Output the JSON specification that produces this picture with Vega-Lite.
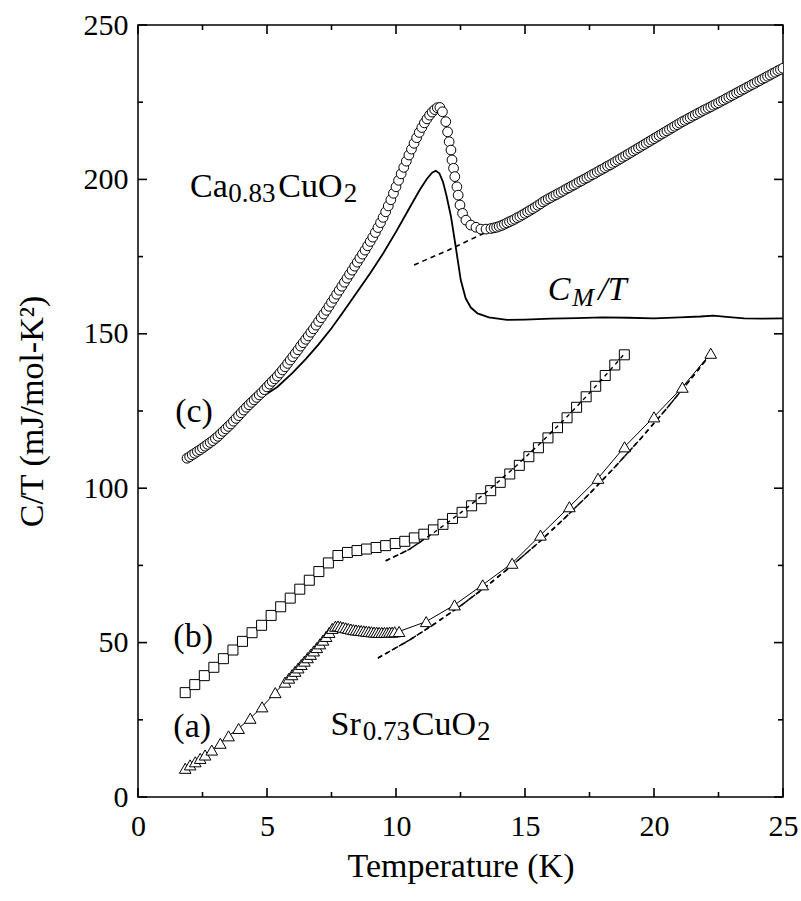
{
  "$schema": "https://vega.github.io/schema/vega-lite/v6.json",
  "width": 645,
  "height": 772,
  "autosize": {"type": "none"},
  "padding": {"left": 138, "top": 25, "right": 18, "bottom": 104},
  "background": "white",
  "config": {
    "view": {"stroke": "black", "strokeWidth": 1.5},
    "font": "Liberation Serif",
    "axis": {
      "domain": false, "grid": false, "ticks": false, "tickSize": 0,
      "labelColor": "black", "titleColor": "black", "labelFont": "Liberation Serif",
      "titleFont": "Liberation Serif", "labelFontSize": 30, "titleFontSize": 34,
      "titleFontWeight": "normal", "labelFlush": false, "labelOverlap": false
    }
  },
  "datasets": {
    "xticks": [
      {"T":0,"kind":"major"},{"T":2.5,"kind":"minor"},{"T":5,"kind":"major"},{"T":7.5,"kind":"minor"},{"T":10,"kind":"major"},{"T":12.5,"kind":"minor"},
      {"T":15,"kind":"major"},{"T":17.5,"kind":"minor"},{"T":20,"kind":"major"},{"T":22.5,"kind":"minor"},{"T":25,"kind":"major"}
    ],
    "yticks": [
      {"C":0,"kind":"major"},{"C":25,"kind":"minor"},{"C":50,"kind":"major"},{"C":75,"kind":"minor"},{"C":100,"kind":"major"},{"C":125,"kind":"minor"},
      {"C":150,"kind":"major"},{"C":175,"kind":"minor"},{"C":200,"kind":"major"},{"C":225,"kind":"minor"},{"C":250,"kind":"major"}
    ],
    "circles": [
      {"T":1.9,"C":109.7},{"T":2.0,"C":110.2},{"T":2.1,"C":110.8},{"T":2.2,"C":111.3},{"T":2.3,"C":111.9},{"T":2.4,"C":112.4},{"T":2.5,"C":113.0},{"T":2.6,"C":113.6},{"T":2.7,"C":114.2},{"T":2.8,"C":114.8},{"T":2.9,"C":115.4},
      {"T":3.0,"C":116.1},{"T":3.1,"C":116.8},{"T":3.2,"C":117.6},{"T":3.3,"C":118.4},{"T":3.4,"C":119.2},{"T":3.5,"C":120.0},{"T":3.6,"C":120.8},{"T":3.7,"C":121.7},{"T":3.8,"C":122.6},{"T":3.9,"C":123.5},
      {"T":4.0,"C":124.4},{"T":4.1,"C":125.3},{"T":4.2,"C":126.2},{"T":4.3,"C":127.0},{"T":4.4,"C":127.8},{"T":4.5,"C":128.6},{"T":4.6,"C":129.4},{"T":4.7,"C":130.2},{"T":4.8,"C":131.0},{"T":4.9,"C":131.9},
      {"T":5.0,"C":132.8},{"T":5.1,"C":133.7},{"T":5.2,"C":134.6},{"T":5.3,"C":135.4},{"T":5.4,"C":136.3},{"T":5.5,"C":137.3},{"T":5.6,"C":138.3},{"T":5.7,"C":139.3},{"T":5.8,"C":140.4},{"T":5.9,"C":141.5},
      {"T":6.0,"C":142.6},{"T":6.1,"C":143.7},{"T":6.2,"C":144.8},{"T":6.3,"C":146.0},{"T":6.4,"C":147.1},{"T":6.5,"C":148.2},{"T":6.6,"C":149.3},{"T":6.7,"C":150.5},{"T":6.8,"C":151.6},{"T":6.9,"C":152.8},
      {"T":7.0,"C":154.0},{"T":7.1,"C":155.2},{"T":7.2,"C":156.4},{"T":7.3,"C":157.6},{"T":7.4,"C":158.9},{"T":7.5,"C":160.2},{"T":7.6,"C":161.5},{"T":7.7,"C":162.8},{"T":7.8,"C":164.1},{"T":7.9,"C":165.4},
      {"T":8.0,"C":166.7},{"T":8.1,"C":168.0},{"T":8.2,"C":169.3},{"T":8.3,"C":170.6},{"T":8.4,"C":171.9},{"T":8.5,"C":173.2},{"T":8.6,"C":174.5},{"T":8.7,"C":175.8},{"T":8.8,"C":177.1},{"T":8.9,"C":178.5},
      {"T":9.0,"C":179.9},{"T":9.1,"C":181.3},{"T":9.2,"C":182.8},{"T":9.3,"C":184.4},{"T":9.4,"C":186.0},{"T":9.5,"C":187.7},{"T":9.6,"C":189.5},{"T":9.7,"C":191.4},{"T":9.8,"C":193.4},{"T":9.9,"C":195.5},
      {"T":10.0,"C":197.6},{"T":10.1,"C":199.7},{"T":10.2,"C":201.8},{"T":10.3,"C":203.9},{"T":10.4,"C":205.9},{"T":10.5,"C":207.9},{"T":10.6,"C":209.8},{"T":10.7,"C":211.7},{"T":10.8,"C":213.5},{"T":10.9,"C":215.2},
      {"T":11.0,"C":216.8},{"T":11.1,"C":218.3},{"T":11.2,"C":219.6},{"T":11.3,"C":220.8},{"T":11.4,"C":221.8},{"T":11.5,"C":222.6},{"T":11.6,"C":223.2},{"T":11.7,"C":223.3},
      {"T":11.8,"C":221.9},{"T":11.93,"C":218.7},{"T":12.0,"C":215.4},{"T":12.06,"C":212.2},{"T":12.13,"C":209.5},{"T":12.17,"C":206.3},{"T":12.23,"C":203.6},{"T":12.28,"C":200.9},{"T":12.36,"C":197.6},{"T":12.41,"C":194.9},{"T":12.48,"C":191.7},{"T":12.58,"C":189.0},{"T":12.71,"C":186.8},{"T":12.9,"C":185.2},{"T":13.1,"C":184.5},{"T":13.29,"C":183.9},{"T":13.49,"C":183.9},{"T":13.68,"C":184.1},
      {"T":13.8,"C":184.3},{"T":13.9,"C":184.5},{"T":14.0,"C":184.8},{"T":14.1,"C":185.1},{"T":14.2,"C":185.5},{"T":14.3,"C":185.9},{"T":14.4,"C":186.3},{"T":14.5,"C":186.7},{"T":14.6,"C":187.1},{"T":14.7,"C":187.6},{"T":14.8,"C":188.0},{"T":14.9,"C":188.5},
      {"T":15.0,"C":189.0},{"T":15.1,"C":189.5},{"T":15.2,"C":190.0},{"T":15.3,"C":190.5},{"T":15.4,"C":191.0},{"T":15.5,"C":191.6},{"T":15.6,"C":192.1},{"T":15.7,"C":192.7},{"T":15.8,"C":193.2},{"T":15.9,"C":193.7},
      {"T":16.0,"C":194.1},{"T":16.1,"C":194.6},{"T":16.2,"C":195.0},{"T":16.3,"C":195.5},{"T":16.4,"C":195.9},{"T":16.5,"C":196.4},{"T":16.6,"C":196.9},{"T":16.7,"C":197.3},{"T":16.8,"C":197.8},{"T":16.9,"C":198.2},
      {"T":17.0,"C":198.7},{"T":17.1,"C":199.2},{"T":17.2,"C":199.6},{"T":17.3,"C":200.1},{"T":17.4,"C":200.5},{"T":17.5,"C":201.0},{"T":17.6,"C":201.5},{"T":17.7,"C":201.9},{"T":17.8,"C":202.4},{"T":17.9,"C":202.9},
      {"T":18.0,"C":203.3},{"T":18.1,"C":203.8},{"T":18.2,"C":204.3},{"T":18.3,"C":204.7},{"T":18.4,"C":205.2},{"T":18.5,"C":205.7},{"T":18.6,"C":206.2},{"T":18.7,"C":206.7},{"T":18.8,"C":207.2},{"T":18.9,"C":207.7},
      {"T":19.0,"C":208.2},{"T":19.1,"C":208.7},{"T":19.2,"C":209.2},{"T":19.3,"C":209.7},{"T":19.4,"C":210.2},{"T":19.5,"C":210.7},{"T":19.6,"C":211.2},{"T":19.7,"C":211.7},{"T":19.8,"C":212.2},{"T":19.9,"C":212.7},
      {"T":20.0,"C":213.2},{"T":20.1,"C":213.7},{"T":20.2,"C":214.2},{"T":20.3,"C":214.7},{"T":20.4,"C":215.2},{"T":20.5,"C":215.7},{"T":20.6,"C":216.2},{"T":20.7,"C":216.7},{"T":20.8,"C":217.2},{"T":20.9,"C":217.7},
      {"T":21.0,"C":218.2},{"T":21.1,"C":218.7},{"T":21.2,"C":219.1},{"T":21.3,"C":219.6},{"T":21.4,"C":220.0},{"T":21.5,"C":220.5},{"T":21.6,"C":220.9},{"T":21.7,"C":221.4},{"T":21.8,"C":221.8},{"T":21.9,"C":222.3},
      {"T":22.0,"C":222.7},{"T":22.1,"C":223.1},{"T":22.2,"C":223.5},{"T":22.3,"C":224.0},{"T":22.4,"C":224.4},{"T":22.5,"C":224.8},{"T":22.6,"C":225.3},{"T":22.7,"C":225.7},{"T":22.8,"C":226.2},{"T":22.9,"C":226.6},
      {"T":23.0,"C":227.1},{"T":23.1,"C":227.5},{"T":23.2,"C":228.0},{"T":23.3,"C":228.4},{"T":23.4,"C":228.9},{"T":23.5,"C":229.3},{"T":23.6,"C":229.8},{"T":23.7,"C":230.2},{"T":23.8,"C":230.7},{"T":23.9,"C":231.1},
      {"T":24.0,"C":231.6},{"T":24.1,"C":232.0},{"T":24.2,"C":232.5},{"T":24.3,"C":232.9},{"T":24.4,"C":233.4},{"T":24.5,"C":233.8},{"T":24.6,"C":234.3},{"T":24.7,"C":234.7},{"T":24.8,"C":235.2},{"T":24.9,"C":235.6},{"T":25.0,"C":236.0}
    ],
    "cm": [
      {"T":1.9,"C":110.0},{"T":2.5,"C":113.2},{"T":3.0,"C":116.2},{"T":3.5,"C":120.0},{"T":4.0,"C":124.0},{"T":4.5,"C":127.8},{"T":5.0,"C":130.6},{"T":5.4,"C":132.8},{"T":6.0,"C":137.4},{"T":6.5,"C":141.8},{"T":7.0,"C":146.6},{"T":7.5,"C":151.8},{"T":8.0,"C":157.6},{"T":8.5,"C":163.6},{"T":9.0,"C":169.6},{"T":9.5,"C":176.0},{"T":10.0,"C":183.0},{"T":10.5,"C":190.4},{"T":10.9,"C":196.3},{"T":11.2,"C":200.2},{"T":11.4,"C":202.2},{"T":11.54,"C":202.8},{"T":11.68,"C":202.0},{"T":11.82,"C":199.2},{"T":11.96,"C":194.6},{"T":12.13,"C":188.0},{"T":12.3,"C":179.0},{"T":12.51,"C":167.4},{"T":12.7,"C":161.5},{"T":12.9,"C":158.5},{"T":13.16,"C":156.6},{"T":13.6,"C":155.3},{"T":14.3,"C":154.5},{"T":15.0,"C":154.6},{"T":16.0,"C":154.9},{"T":17.0,"C":155.1},{"T":18.0,"C":155.3},{"T":19.0,"C":155.2},{"T":20.0,"C":155.0},{"T":21.0,"C":155.3},{"T":21.8,"C":155.6},{"T":22.3,"C":155.9},{"T":22.8,"C":155.5},{"T":23.5,"C":155.0},{"T":24.2,"C":154.9},{"T":25.0,"C":155.0}
    ],
    "squares": [
      {"T":1.83,"C":33.8},{"T":2.2,"C":36.4},{"T":2.57,"C":39.3},{"T":2.94,"C":42.0},{"T":3.31,"C":44.8},{"T":3.68,"C":47.6},{"T":4.05,"C":50.4},{"T":4.42,"C":53.2},{"T":4.79,"C":55.6},{"T":5.16,"C":58.8},{"T":5.53,"C":61.6},{"T":5.9,"C":64.4},{"T":6.27,"C":67.3},{"T":6.64,"C":70.2},{"T":7.01,"C":73.0},{"T":7.38,"C":75.8},{"T":7.75,"C":78.2},{"T":8.12,"C":79.2},{"T":8.49,"C":79.8},{"T":8.86,"C":80.3},{"T":9.23,"C":80.8},{"T":9.6,"C":81.4},{"T":9.97,"C":82.1},{"T":10.34,"C":82.8},{"T":10.71,"C":83.9},{"T":11.08,"C":85.1},{"T":11.45,"C":86.5},{"T":11.82,"C":88.3},{"T":12.19,"C":90.2},{"T":12.56,"C":92.2},{"T":12.93,"C":94.3},{"T":13.3,"C":96.6},{"T":13.67,"C":99.2},{"T":14.04,"C":101.9},{"T":14.41,"C":104.6},{"T":14.78,"C":107.4},{"T":15.15,"C":110.2},{"T":15.52,"C":113.1},{"T":15.89,"C":116.3},{"T":16.26,"C":119.6},{"T":16.63,"C":122.8},{"T":17.0,"C":126.2},{"T":17.37,"C":129.6},{"T":17.74,"C":133.0},{"T":18.11,"C":136.5},{"T":18.48,"C":139.9},{"T":18.85,"C":143.2}
    ],
    "triangles": [
      {"T":1.83,"C":9.3},{"T":2.02,"C":10.4},{"T":2.22,"C":11.4},{"T":2.41,"C":12.5},{"T":2.6,"C":13.6},{"T":2.86,"C":15.2},{"T":3.19,"C":17.4},{"T":3.51,"C":19.8},{"T":3.9,"C":22.2},{"T":4.35,"C":25.5},{"T":4.81,"C":29.2},{"T":5.32,"C":33.8},{"T":5.7,"C":37.2},{"T":5.85,"C":38.5},{"T":5.97,"C":39.6},{"T":6.09,"C":40.7},{"T":6.21,"C":41.8},{"T":6.33,"C":42.9},{"T":6.45,"C":44.0},{"T":6.57,"C":45.1},{"T":6.69,"C":46.2},{"T":6.81,"C":47.3},{"T":6.93,"C":48.4},{"T":7.05,"C":49.6},{"T":7.17,"C":50.8},{"T":7.29,"C":52.0},{"T":7.41,"C":53.3},{"T":7.53,"C":54.6},{"T":7.65,"C":55.3},{"T":7.75,"C":55.4},{"T":7.85,"C":55.2},{"T":7.95,"C":55.0},{"T":8.05,"C":54.8},{"T":8.15,"C":54.6},{"T":8.25,"C":54.4},{"T":8.35,"C":54.2},{"T":8.45,"C":54.1},{"T":8.55,"C":54.0},{"T":8.65,"C":53.9},{"T":8.75,"C":53.8},{"T":8.85,"C":53.7},{"T":8.95,"C":53.6},{"T":9.05,"C":53.5},{"T":9.15,"C":53.4},{"T":9.25,"C":53.4},{"T":9.35,"C":53.3},{"T":9.45,"C":53.3},{"T":9.55,"C":53.3},{"T":9.65,"C":53.3},{"T":9.75,"C":53.4},{"T":9.85,"C":53.4},{"T":9.95,"C":53.5},{"T":10.12,"C":53.6},{"T":11.17,"C":56.8},{"T":12.27,"C":62.2},{"T":13.36,"C":68.7},{"T":14.5,"C":75.7},{"T":15.6,"C":84.8},{"T":16.72,"C":94.0},{"T":17.83,"C":103.2},{"T":18.86,"C":113.4},{"T":20.0,"C":123.1},{"T":21.1,"C":132.7},{"T":22.2,"C":143.7}
    ],
    "fits": [
      {"series":"c","T":10.7,"C":172.3},{"series":"c","T":12.0,"C":177.0},{"series":"c","T":13.42,"C":182.6},
      {"series":"b","T":9.6,"C":76.5},{"series":"b","T":10.5,"C":80.1},{"series":"b","T":11.5,"C":85.8},{"series":"b","T":12.5,"C":92.0},{"series":"b","T":13.5,"C":98.7},{"series":"b","T":14.5,"C":106.0},{"series":"b","T":15.5,"C":113.8},{"series":"b","T":16.5,"C":122.0},{"series":"b","T":17.5,"C":130.8},{"series":"b","T":18.5,"C":140.1},{"series":"b","T":18.85,"C":143.5},
      {"series":"a","T":9.3,"C":45.0},{"series":"a","T":10.5,"C":50.7},{"series":"a","T":11.5,"C":56.1},{"series":"a","T":12.5,"C":61.9},{"series":"a","T":13.5,"C":68.2},{"series":"a","T":14.5,"C":75.0},{"series":"a","T":15.5,"C":82.2},{"series":"a","T":16.5,"C":90.0},{"series":"a","T":17.5,"C":98.2},{"series":"a","T":18.5,"C":107.0},{"series":"a","T":19.5,"C":116.2},{"series":"a","T":20.5,"C":125.9},{"series":"a","T":21.5,"C":136.1},{"series":"a","T":22.2,"C":143.5}
    ],
    "labelsBig": [
      {"text":"Ca","T":2.02,"C":194.4},{"text":"CuO","T":5.44,"C":194.4},
      {"text":"Sr","T":7.46,"C":20.1},{"text":"CuO","T":10.61,"C":20.1},
      {"text":"(c)","T":1.44,"C":121.5},{"text":"(b)","T":1.37,"C":48.7},{"text":"(a)","T":1.37,"C":19.5}
    ],
    "labelsSub": [
      {"text":"0.83","T":3.5,"C":192.8},{"text":"2","T":7.97,"C":192.8},
      {"text":"0.73","T":8.71,"C":18.5},{"text":"2","T":13.14,"C":18.5}
    ],
    "labelsItalic": [
      {"text":"C","T":15.88,"C":160.9},{"text":"/T","T":17.84,"C":160.9}
    ],
    "labelsItalicSub": [
      {"text":"M","T":16.83,"C":159.0}
    ]
  },
  "layer": [
    {
      "data": {"name": "cm"},
      "mark": {"type": "line", "color": "black", "strokeWidth": 1.8, "clip": true},
      "encoding": {
        "x": {"field": "T", "type": "quantitative", "scale": {"domain": [0, 25], "nice": false, "zero": false},
          "axis": {"orient": "bottom", "values": [0, 5, 10, 15, 20, 25], "labelPadding": 14, "title": "Temperature (K)", "titlePadding": 8}},
        "y": {"field": "C", "type": "quantitative", "scale": {"domain": [0, 250], "nice": false, "zero": false},
          "axis": {"orient": "left", "values": [0, 50, 100, 150, 200, 250], "labelPadding": 10, "title": "C/T (mJ/mol-K²)", "titlePadding": 34}}
      }
    },
    {
      "data": {"name": "xticks"},
      "mark": {"type": "point", "shape": "M0,0L0,-2", "filled": false, "stroke": "black", "strokeWidth": 1.6, "opacity": 1},
      "encoding": {
        "x": {"field": "T", "type": "quantitative"}, "y": {"datum": 0},
        "size": {"field": "kind", "type": "nominal", "scale": {"domain": ["major", "minor"], "range": [81, 25]}, "legend": null}
      }
    },
    {
      "data": {"name": "xticks"},
      "mark": {"type": "point", "shape": "M0,0L0,2", "filled": false, "stroke": "black", "strokeWidth": 1.6, "opacity": 1},
      "encoding": {
        "x": {"field": "T", "type": "quantitative"}, "y": {"datum": 250},
        "size": {"field": "kind", "type": "nominal", "legend": null}
      }
    },
    {
      "data": {"name": "yticks"},
      "mark": {"type": "point", "shape": "M0,0L2,0", "filled": false, "stroke": "black", "strokeWidth": 1.6, "opacity": 1},
      "encoding": {
        "y": {"field": "C", "type": "quantitative"}, "x": {"datum": 0},
        "size": {"field": "kind", "type": "nominal", "legend": null}
      }
    },
    {
      "data": {"name": "yticks"},
      "mark": {"type": "point", "shape": "M0,0L-2,0", "filled": false, "stroke": "black", "strokeWidth": 1.6, "opacity": 1},
      "encoding": {
        "y": {"field": "C", "type": "quantitative"}, "x": {"datum": 25},
        "size": {"field": "kind", "type": "nominal", "legend": null}
      }
    },
    {
      "data": {"name": "fits"},
      "mark": {"type": "line", "color": "black", "strokeWidth": 1.6, "strokeDash": [5, 4], "clip": true},
      "encoding": {
        "x": {"field": "T", "type": "quantitative"},
        "y": {"field": "C", "type": "quantitative"},
        "detail": {"field": "series"}
      }
    },
    {
      "data": {"name": "circles"},
      "mark": {"type": "line", "color": "black", "strokeWidth": 1, "clip": true},
      "encoding": {
        "x": {"field": "T", "type": "quantitative"},
        "y": {"field": "C", "type": "quantitative"}
      }
    },
    {
      "data": {"name": "triangles"},
      "mark": {"type": "line", "color": "black", "strokeWidth": 1, "clip": true},
      "encoding": {
        "x": {"field": "T", "type": "quantitative"},
        "y": {"field": "C", "type": "quantitative"}
      }
    },
    {
      "data": {"name": "circles"},
      "mark": {"type": "point", "shape": "circle", "size": 95, "filled": false, "fill": "white", "fillOpacity": 1, "stroke": "black", "strokeWidth": 1, "opacity": 1, "clip": true},
      "encoding": {
        "x": {"field": "T", "type": "quantitative"},
        "y": {"field": "C", "type": "quantitative"}
      }
    },
    {
      "data": {"name": "squares"},
      "mark": {"type": "point", "shape": "square", "size": 100, "filled": false, "fill": "white", "fillOpacity": 1, "stroke": "black", "strokeWidth": 1, "opacity": 1, "clip": true},
      "encoding": {
        "x": {"field": "T", "type": "quantitative"},
        "y": {"field": "C", "type": "quantitative"}
      }
    },
    {
      "data": {"name": "fits"},
      "transform": [{"filter": "datum.series !== 'c'"}],
      "mark": {"type": "line", "color": "black", "strokeWidth": 1.4, "strokeDash": [4, 4], "clip": true},
      "encoding": {
        "x": {"field": "T", "type": "quantitative"},
        "y": {"field": "C", "type": "quantitative"},
        "detail": {"field": "series"}
      }
    },
    {
      "data": {"name": "triangles"},
      "mark": {"type": "point", "shape": "triangle-up", "size": 135, "filled": false, "fill": "white", "fillOpacity": 1, "stroke": "black", "strokeWidth": 1, "opacity": 1, "clip": true},
      "encoding": {
        "x": {"field": "T", "type": "quantitative"},
        "y": {"field": "C", "type": "quantitative"}
      }
    },
    {
      "data": {"name": "labelsBig"},
      "mark": {"type": "text", "align": "left", "baseline": "alphabetic", "fontSize": 34, "font": "Liberation Serif", "color": "black"},
      "encoding": {
        "x": {"field": "T", "type": "quantitative"},
        "y": {"field": "C", "type": "quantitative"},
        "text": {"field": "text"}
      }
    },
    {
      "data": {"name": "labelsSub"},
      "mark": {"type": "text", "align": "left", "baseline": "alphabetic", "fontSize": 27, "font": "Liberation Serif", "color": "black"},
      "encoding": {
        "x": {"field": "T", "type": "quantitative"},
        "y": {"field": "C", "type": "quantitative"},
        "text": {"field": "text"}
      }
    },
    {
      "data": {"name": "labelsItalic"},
      "mark": {"type": "text", "align": "left", "baseline": "alphabetic", "fontSize": 34, "fontStyle": "italic", "font": "Liberation Serif", "color": "black"},
      "encoding": {
        "x": {"field": "T", "type": "quantitative"},
        "y": {"field": "C", "type": "quantitative"},
        "text": {"field": "text"}
      }
    },
    {
      "data": {"name": "labelsItalicSub"},
      "mark": {"type": "text", "align": "left", "baseline": "alphabetic", "fontSize": 26, "fontStyle": "italic", "font": "Liberation Serif", "color": "black"},
      "encoding": {
        "x": {"field": "T", "type": "quantitative"},
        "y": {"field": "C", "type": "quantitative"},
        "text": {"field": "text"}
      }
    }
  ]
}
